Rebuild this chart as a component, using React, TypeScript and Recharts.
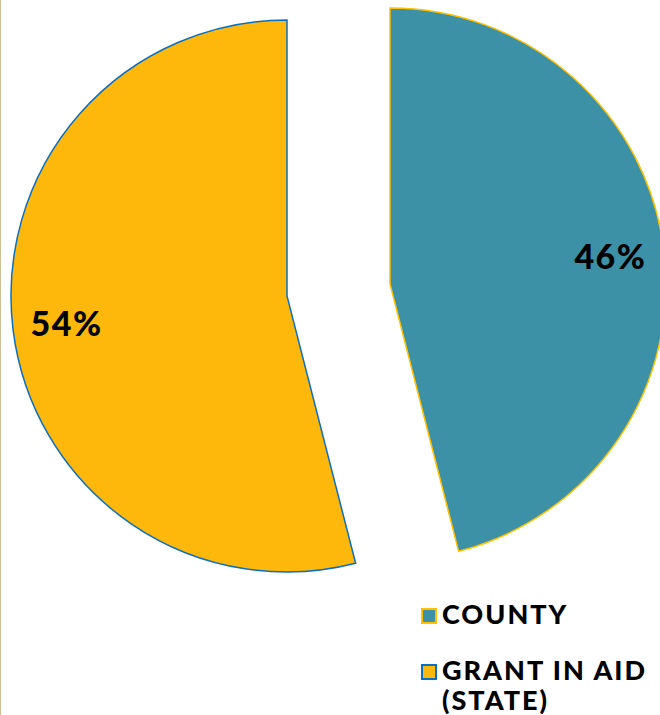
import React from "react";
import { PieChart, Pie, Cell, Legend } from "recharts";

// funding split
const categories = ["COUNTY", "GRANT IN AID (STATE)"];
const shares = [46, 54];
const fills = ["#3C91A7", "#FEB70B"];
const borders = ["#FFC000", "#0A6FC0"];

const data = categories.map((name, i) => ({ name, value: shares[i] }));

const RAD = Math.PI / 180;
const FONT = "Lato, 'DejaVu Sans', sans-serif";

// each slice drawn from its own pie so it can sit apart (exploded look)
const slices = [
  { index: 0, cx: 390, cy: 284 },
  { index: 1, cx: 287, cy: 296 },
];

const makeLabel = (visible: number) => (props: any) => {
  const { cx, cy, midAngle, outerRadius, percent, index } = props;
  if (index !== visible) return null;
  const r = outerRadius * 0.805;
  const x = cx + r * Math.cos(-midAngle * RAD);
  const y = cy + r * Math.sin(-midAngle * RAD);
  return (
    <text
      x={x}
      y={y - 1}
      textAnchor="middle"
      dominantBaseline="central"
      fill="#000"
      fontFamily={FONT}
      fontWeight={900}
      fontSize={34}
      letterSpacing={1.5}
    >
      {`${Math.round(percent * 100)}%`}
    </text>
  );
};

const renderLegend = () => (
  <div style={{ fontFamily: FONT, fontWeight: 900, fontSize: 27, letterSpacing: 2, color: "#000" }}>
    {data.map((d, i) => (
      <div key={d.name} style={{ display: "flex", alignItems: "flex-start", marginBottom: 26 }}>
        <span
          style={{
            display: "inline-block",
            flex: "none",
            width: 12,
            height: 12,
            marginTop: 9,
            marginRight: 5,
            background: fills[i],
            border: `2px solid ${borders[i]}`,
          }}
        />
        <span style={{ width: 212, lineHeight: "30px" }}>{d.name}</span>
      </div>
    ))}
  </div>
);

export default function App() {
  return (
    <div style={{ position: "absolute", left: 0, top: 0, width: 660, height: 715, background: "#fff", overflow: "hidden" }}>
      <style>{`body{margin:0}`}</style>
      <div style={{ position: "absolute", left: 0, top: 0, width: 1, height: 715, background: "#CDBE95" }} />
      <PieChart width={660} height={715} margin={{ top: 0, right: 0, bottom: 0, left: 0 }}>
        {slices.map((s) => (
          <Pie
            key={s.index}
            data={data}
            dataKey="value"
            nameKey="name"
            cx={s.cx}
            cy={s.cy}
            outerRadius={276}
            startAngle={90}
            endAngle={-270}
            label={makeLabel(s.index)}
            labelLine={false}
            isAnimationActive={false}
          >
            {data.map((d, i) => (
              <Cell
                key={d.name}
                fill={i === s.index ? fills[i] : "none"}
                stroke={i === s.index ? borders[i] : "none"}
                strokeWidth={1.5}
              />
            ))}
          </Pie>
        ))}
        <Legend
          content={renderLegend}
          wrapperStyle={{ position: "absolute", left: 421, top: 599, width: 240, bottom: "auto" }}
        />
      </PieChart>
    </div>
  );
}
